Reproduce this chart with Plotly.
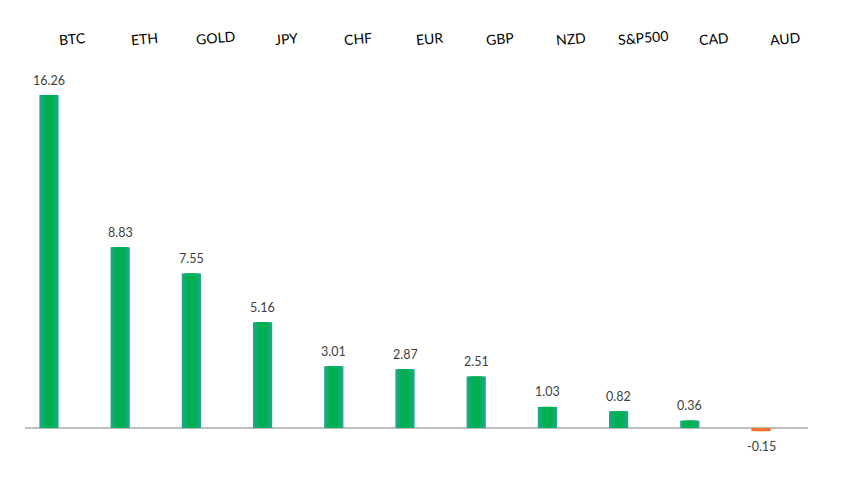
import plotly.graph_objects as go

categories = ["BTC", "ETH", "GOLD", "JPY", "CHF", "EUR", "GBP", "NZD", "S&P500", "CAD", "AUD"]
values = [16.26, 8.83, 7.55, 5.16, 3.01, 2.87, 2.51, 1.03, 0.82, 0.36, -0.15]
value_labels = ["16.26", "8.83", "7.55", "5.16", "3.01", "2.87", "2.51", "1.03", "0.82", "0.36", "-0.15"]

POS_LAYERS = ["#22a68a", "#12ab74", "#04af5e", "#00b050"]
NEG_LAYERS = ["#ec6a2c", "#ef6f2c", "#f0722c", "#f0742d"]
WIDTHS = [0.27, 0.22, 0.16, 0.10]

fig = go.Figure()
for k, w in enumerate(WIDTHS):
    colors = [POS_LAYERS[k] if v >= 0 else NEG_LAYERS[k] for v in values]
    fig.add_trace(go.Bar(
        x=categories, y=values, width=w,
        marker=dict(color=colors, line=dict(width=0)),
        hoverinfo="skip", showlegend=False,
    ))

annotations = []
for c, v, t in zip(categories, values, value_labels):
    annotations.append(dict(
        x=c, y=v, xref="x", yref="y", text=t, showarrow=False,
        yshift=15 if v >= 0 else -15,
        font=dict(size=12.5, color="#404040", family="Lato, Liberation Sans, sans-serif"),
    ))
    annotations.append(dict(
        x=c, y=1.0, xref="x", yref="paper", text=c, showarrow=False,
        yanchor="bottom", yshift=10, xshift=24, textangle=-5,
        font=dict(size=14, color="#000000", family="Lato, Liberation Sans, sans-serif"),
    ))

fig.update_layout(
    width=848, height=482,
    margin=dict(l=17, r=48, t=52, b=20),
    paper_bgcolor="white", plot_bgcolor="white",
    barmode="overlay",
    annotations=annotations,
    xaxis=dict(visible=False, range=[-0.337, 10.66], type="category"),
    yaxis=dict(range=[-2.05, 17.97], showgrid=False, showticklabels=False,
               zeroline=True, zerolinecolor="#bfbfbf", zerolinewidth=2),
)

fig.write_html("out.html")
